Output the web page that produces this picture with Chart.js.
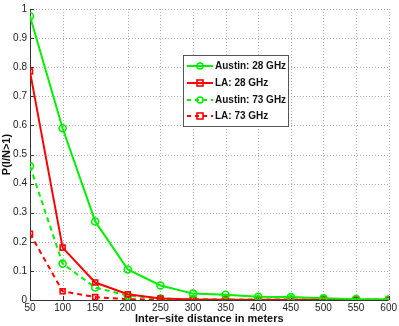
<!DOCTYPE html>
<html><head><meta charset="utf-8">
<script src="https://cdn.jsdelivr.net/npm/chart.js@4"></script>
<style>html,body{margin:0;padding:0;background:#fff}#wrap{width:399px;height:326px}</style>
</head><body><div id="wrap"><canvas id="c" width="399" height="326"></canvas></div>
<script>
const distances = [50,100,150,200,250,300,350,400,450,500,550,600];
const austin28 = [0.975,0.59,0.27,0.105,0.05,0.022,0.018,0.011,0.01,0.006,0.003,0.002];
const la28 = [0.785,0.18,0.06,0.02,0.005,0.002,0.001,0.001,0.001,0.001,0.001,0.001];
const austin73 = [0.46,0.125,0.043,0.015,0.005,0.003,0.002,0.002,0.002,0.002,0.002,0.001];
const la73 = [0.228,0.03,0.01,0.003,0.001,0.001,0,0,0,0,0,0];
const seriesNames = ['Austin: 28 GHz','LA: 28 GHz','Austin: 73 GHz','LA: 73 GHz'];
const xTitle = 'Inter\u2013site distance in meters';
const yTitle = 'P(I/N>1)';
const GREEN = '#00f000', RED = '#ff0000';
const FONT = '"Liberation Sans", Arial, sans-serif';

function pts(arr){ return distances.map((d,i)=>({x:d,y:arr[i]})); }
function ds(label, data, color, style, dash){
  return {label, data: pts(data), borderColor: color, backgroundColor: 'rgba(0,0,0,0)',
    borderWidth: 2, pointStyle: style, pointRadius: 3.5, pointBorderWidth: 1.6,
    pointBorderColor: color, pointBackgroundColor:'rgba(0,0,0,0)', borderDash: dash, tension: 0, fill:false};
}

const dottedGrid = {
  id: 'dottedGrid',
  beforeDatasetsDraw(chart){
    const ctx = chart.ctx, a = chart.chartArea, xs = chart.scales.x, ys = chart.scales.y;
    ctx.save(); ctx.strokeStyle = '#b0b0b0'; ctx.lineWidth = 1; ctx.setLineDash([1,2]);
    ys.ticks.forEach(t=>{ if (t.value===0) return; const y = Math.round(ys.getPixelForValue(t.value))+0.5;
      ctx.beginPath(); ctx.moveTo(a.left,y); ctx.lineTo(a.right,y); ctx.stroke(); });
    xs.ticks.forEach(t=>{ if (t.value===50) return; const x = Math.round(xs.getPixelForValue(t.value))+0.5;
      ctx.beginPath(); ctx.moveTo(x,a.top); ctx.lineTo(x,a.bottom); ctx.stroke(); });
    ctx.setLineDash([]);
    ctx.strokeStyle = '#333';
    ctx.beginPath(); ctx.moveTo(a.left+0.5,a.top); ctx.lineTo(a.left+0.5,a.bottom+0.5); ctx.lineTo(a.right,a.bottom+0.5); ctx.stroke();
    ys.ticks.forEach(t=>{ const y = Math.round(ys.getPixelForValue(t.value))+0.5;
      ctx.beginPath(); ctx.moveTo(a.left,y); ctx.lineTo(a.left+4,y); ctx.stroke(); });
    xs.ticks.forEach(t=>{ const x = Math.round(xs.getPixelForValue(t.value))+0.5;
      ctx.beginPath(); ctx.moveTo(x,a.bottom); ctx.lineTo(x,a.bottom-4); ctx.stroke(); });
    ctx.restore();
  }
};

const legendPlugin = {
  id: 'boxLegend',
  afterDatasetsDraw(chart){
    const ctx = chart.ctx;
    const x0 = 183, y0 = 55, w = 105, h = 71;
    ctx.save();
    ctx.fillStyle = '#fff'; ctx.fillRect(x0,y0,w,h);
    ctx.strokeStyle = '#555'; ctx.lineWidth = 1; ctx.strokeRect(x0+0.5,y0+0.5,w,h);
    ctx.font = 'bold 10px ' + FONT;
    ctx.textBaseline = 'middle';
    chart.data.datasets.forEach((d,i)=>{
      const y = Math.round(y0 + 11 + i*16.8);
      ctx.strokeStyle = d.borderColor; ctx.lineWidth = 2;
      ctx.setLineDash(d.borderDash && d.borderDash.length ? [4,4] : []);
      ctx.beginPath(); ctx.moveTo(x0+4,y); ctx.lineTo(x0+30,y); ctx.stroke();
      ctx.setLineDash([]);
      ctx.lineWidth = 1.6;
      if (d.pointStyle==='rect'){ ctx.strokeRect(x0+14,y-3,6,6); }
      else { ctx.beginPath(); ctx.arc(x0+17,y,3,0,Math.PI*2); ctx.stroke(); }
      ctx.fillStyle = '#111';
      ctx.fillText(d.label, x0+32, y+0.5);
    });
    ctx.restore();
  }
};

new Chart(document.getElementById('c'), {
  type: 'line',
  data: { datasets: [
    ds(seriesNames[0], austin28, GREEN, 'circle', []),
    ds(seriesNames[1], la28, RED, 'rect', []),
    ds(seriesNames[2], austin73, GREEN, 'circle', [5,4]),
    ds(seriesNames[3], la73, RED, 'rect', [5,4])
  ]},
  options: {
    responsive: false, animation: false, devicePixelRatio: 1,
    layout: { padding: { left: 0, right: 10, top: 9, bottom: 0 } },
    plugins: { legend: { display: false }, tooltip: { enabled: false } },
    scales: {
      x: { type: 'linear', min: 50, max: 600,
        ticks: { stepSize: 50, color: '#222', font: { size: 10, family: FONT }, padding: 2, maxRotation: 0 },
        grid: { display: false, drawTicks: false },
        border: { display: false },
        title: { display: true, text: xTitle, color: '#111', font: { size: 11, weight: 'bold', family: FONT }, padding: { top: 0, bottom: 0 } },
        afterFit(s){ s.height = 26; }
      },
      y: { type: 'linear', min: 0, max: 1,
        ticks: { stepSize: 0.1, color: '#222', font: { size: 10, family: FONT }, padding: 3,
          callback: v => String(Number(v.toFixed(1))) },
        grid: { display: false, drawTicks: false },
        border: { display: false },
        title: { display: true, text: yTitle, color: '#111', font: { size: 11, weight: 'bold', family: FONT }, padding: { top: 0, bottom: 0 } },
        afterFit(s){ s.width = 30; }
      }
    }
  },
  plugins: [dottedGrid, legendPlugin]
});
</script></body></html>
